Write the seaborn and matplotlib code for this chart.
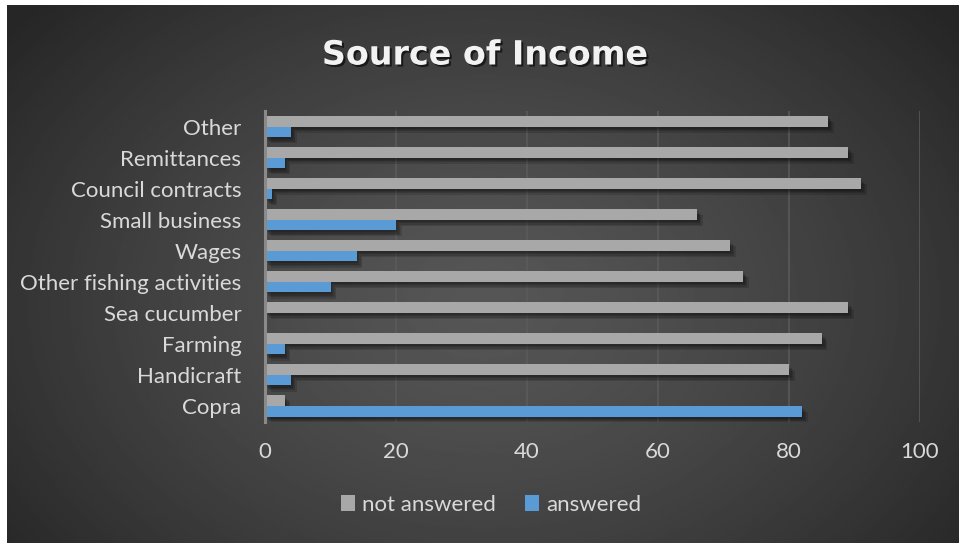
import numpy as np
import pandas as pd
import matplotlib
matplotlib.use("Agg")
import matplotlib.pyplot as plt
import matplotlib.patheffects as pe
from matplotlib.patches import Patch
import seaborn as sns

# Survey responses per income source (top to bottom)
categories = ["Other", "Remittances", "Council contracts", "Small business", "Wages",
              "Other fishing activities", "Sea cucumber", "Farming", "Handicraft", "Copra"]
not_answered = [86, 89, 91, 66, 71, 73, 89, 85, 80, 3]
answered = [4, 3, 1, 20, 14, 10, 0, 3, 4, 82]
series = ["not answered", "answered"]
x_ticks = [0, 20, 40, 60, 80, 100]

df = pd.DataFrame({
    "source": categories * 2,
    "series": [series[0]] * len(categories) + [series[1]] * len(categories),
    "value": not_answered + answered,
})

sns.set_theme(style="white")
FONT = ["Lato", "DejaVu Sans"]
plt.rcParams["font.family"] = FONT

W, H = 959, 543
fig = plt.figure(figsize=(W / 100, H / 100), dpi=100, facecolor="white")

# Dark radial-gradient chart background
bg = fig.add_axes([7 / W, 0, (W - 7) / W, (H - 5) / H], zorder=-5)
yy, xx = np.mgrid[0:300, 0:500]
cx, cy = 250, 165
r = np.sqrt(((xx - cx) / 300.0) ** 2 + ((yy - cy) / 230.0) ** 2)
shade = np.clip(0.335 - 0.17 * r ** 1.4, 0.15, 0.34)
bg.imshow(shade, cmap="gray", vmin=0, vmax=1, aspect="auto", interpolation="bilinear")
bg.set_axis_off()

ax = fig.add_axes([265 / W, 1 - 421.5 / H, (920 - 265) / W, (421.5 - 111) / H])
ax.set_facecolor("none")

palette = {"not answered": "#a8a8a8", "answered": "#5b9bd5"}
sns.barplot(data=df, y="source", x="value", hue="series", order=categories,
            hue_order=series, palette=palette, orient="h", width=0.68,
            saturation=1, ax=ax, legend=False, zorder=3)

soft_shadow = [pe.SimplePatchShadow(offset=(1 + k, -1.5 - k), shadow_rgbFace="black", alpha=0.14)
               for k in range(4)]
for bar in ax.patches:
    bar.set_edgecolor("none")
    bar.set_path_effects(soft_shadow + [pe.Normal()])

ax.set_xlim(0, 100)
ax.set_xticks(x_ticks)
ax.set_xticklabels([str(t) for t in x_ticks])
ax.set_xlabel("")
ax.set_ylabel("")
ax.xaxis.grid(True, color="#5b5b5b", lw=1.1, zorder=0)
ax.yaxis.grid(False)
for s in ["top", "right", "bottom"]:
    ax.spines[s].set_visible(False)
ax.spines["left"].set_color("#8a8a8a")
ax.spines["left"].set_linewidth(2.2)
ax.spines["left"].set_zorder(4)
ax.tick_params(axis="both", length=0, colors="#d9d9d9", labelsize=16)
ax.tick_params(axis="y", pad=17)
ax.tick_params(axis="x", pad=15)
for lab in ax.get_xticklabels() + ax.get_yticklabels():
    lab.set_color("#d9d9d9")
    lab.set_family(FONT)

fig.text(485 / W, 1 - 55 / H, "Source of Income", ha="center", va="center",
         fontsize=24, fontweight="bold", color="#f2f2f2", family=["DejaVu Sans"],
         path_effects=[pe.withSimplePatchShadow(offset=(1.5, -1.5), shadow_rgbFace="black", alpha=0.6)])

handles = [Patch(facecolor=palette[s], edgecolor="none") for s in series]
leg = fig.legend(handles, series, loc="center", bbox_to_anchor=(491 / W, 1 - 505 / H),
                 ncol=2, frameon=False, fontsize=16, handlelength=0.65, handleheight=0.75,
                 handletextpad=0.3, columnspacing=1.3)
for t in leg.get_texts():
    t.set_color("#d9d9d9")

fig.savefig("out.png", dpi=100, facecolor="white")
